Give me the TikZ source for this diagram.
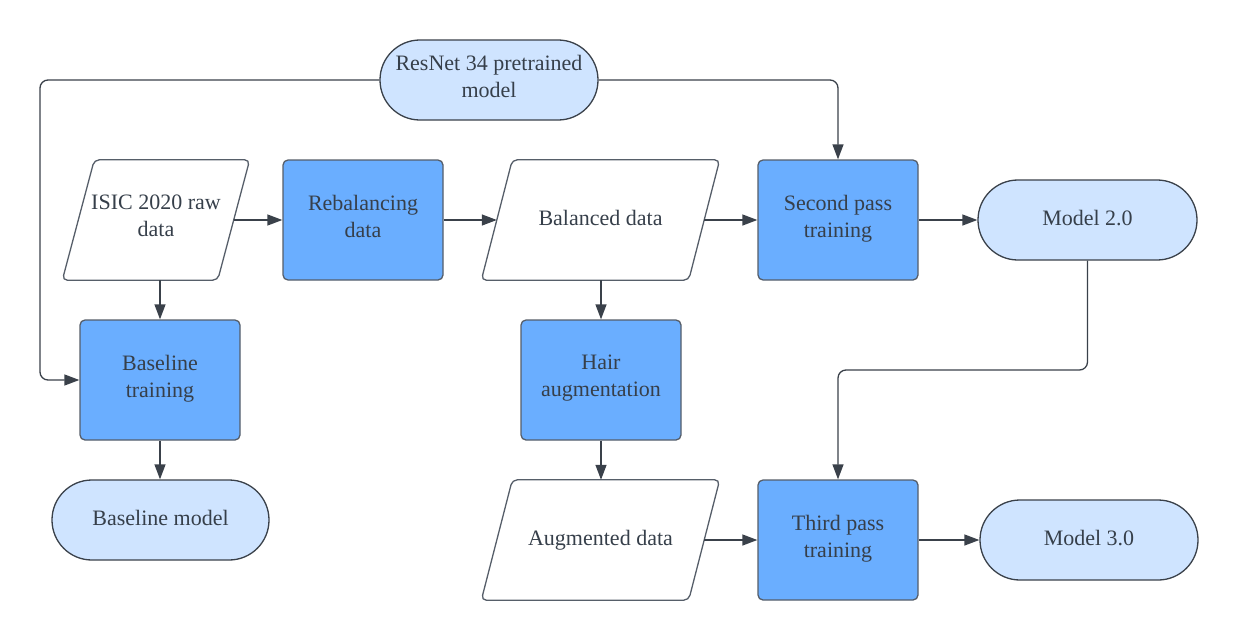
\documentclass[tikz,border=0pt]{standalone}
\usepackage{fontspec}
\setmainfont{Liberation Serif}
\usetikzlibrary{arrows.meta}
\definecolor{lineC}{HTML}{3A414A}
\definecolor{borderC}{HTML}{565E69}
\definecolor{textC}{HTML}{363F4A}
\definecolor{darkF}{HTML}{6AAEFF}
\definecolor{lightF}{HTML}{CFE4FF}
\newcommand\paradraw[2]{\draw[borderC, line width=1.3pt, rounded corners=5pt]
  ([xshift=#2]#1.north west) -- ([xshift=#2]#1.north east) --
  ([xshift=-#2]#1.south east) -- ([xshift=-#2]#1.south west) -- cycle;}
\begin{document}
\begin{tikzpicture}[x=1pt,y=-1pt,
  base/.style={text=textC, font=\fontsize{22}{27}\selectfont, align=center, inner sep=0pt,
    execute at begin node=\strut, execute at end node=\strut},
  proc/.style={base, draw=borderC, line width=1.3pt, fill=darkF, rounded corners=5pt, minimum width=160pt, minimum height=120pt},
  term/.style={base, draw=lineC, line width=1.3pt, fill=lightF, rounded corners=39.9pt, minimum height=80pt},
  dat/.style={base, minimum height=120pt},
  conn/.style={draw=lineC, line width=1.3pt, -{Triangle[length=15pt,width=11pt]}, rounded corners=8pt}
]
\useasboundingbox (0,0) rectangle (1239,640);
\node[term, minimum width=218pt] (resnet) at (489,80) {ResNet 34 pretrained\\model};
\node[dat, minimum width=155pt] (isic) at (156,220) {ISIC 2020 raw\\data};
\node[proc] (rebal) at (363,220) {Rebalancing\\data};
\node[dat, minimum width=207pt] (bal) at (600.5,220) {Balanced data};
\node[proc] (second) at (838,220) {Second pass\\training};
\node[term, minimum width=219pt] (m2) at (1087.5,220) {Model 2.0};
\node[proc] (basetr) at (160,380) {Baseline\\training};
\node[term, minimum width=217pt] (basem) at (160.5,520) {Baseline model};
\node[proc] (hair) at (601,380) {Hair\\augmentation};
\node[dat, minimum width=207pt] (aug) at (600.5,540) {Augmented data};
\node[proc] (third) at (838,540) {Third pass\\training};
\node[term, minimum width=218pt] (m3) at (1089,540) {Model 3.0};
\paradraw{isic}{16pt}
\paradraw{bal}{15.5pt}
\paradraw{aug}{15.5pt}
\coordinate (lft) at (40,0);
\coordinate (mid) at (0,370);
\draw[conn] (resnet.west) -- (resnet.west -| lft) -- (lft |- basetr.west) -- (basetr.west);
\draw[conn] (resnet.east) -| (second.north);
\draw[conn] (isic.east) -- (rebal.west);
\draw[conn] (rebal.east) -- (bal.west);
\draw[conn] (bal.east) -- (second.west);
\draw[conn] (second.east) -- (m2.west);
\draw[conn] (basetr.north |- isic.south) -- (basetr.north);
\draw[conn] (basetr.south) -- (basetr.south |- basem.north);
\draw[conn] (hair.north |- bal.south) -- (hair.north);
\draw[conn] (hair.south) -- (hair.south |- aug.north);
\draw[conn] (aug.east) -- (third.west);
\draw[conn] (third.east) -- (m3.west);
\draw[conn] (m2.south) -- (m2.south |- mid) -| (third.north);
\end{tikzpicture}
\end{document}
